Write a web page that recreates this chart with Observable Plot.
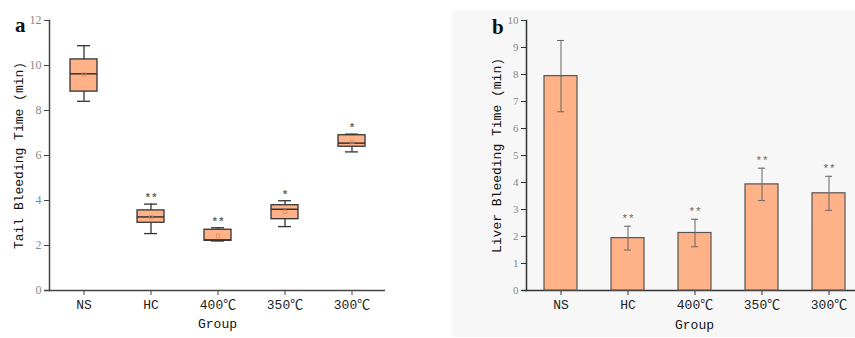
<!DOCTYPE html>
<html>
<head>
<meta charset="utf-8">
<script src="https://cdn.jsdelivr.net/npm/d3@7"></script>
<script src="https://cdn.jsdelivr.net/npm/@observablehq/plot@0.6"></script>
<style>
  html, body { margin: 0; padding: 0; background: #fff; overflow: hidden; }
  #wrap { position: relative; width: 855px; height: 338px; overflow: hidden; }
  #bg { position: absolute; left: 452px; top: 10px; width: 403px; height: 327px; background: #f7f7f7; }
  #pa { position: absolute; left: 0; top: 0; }
  #pb { position: absolute; left: 430px; top: 0; }
  .lab { position: absolute; font-family: "Liberation Serif", serif; font-weight: bold; font-size: 21px; color: #111; }
</style>
</head>
<body>
<div id="wrap">
  <div id="bg"></div>
  <div id="pa"></div>
  <div id="pb"></div>
  <div class="lab" style="left:15px; top:13px;">a</div>
  <div class="lab" style="left:492px; top:15px;">b</div>
</div>
<script>
const groups = ["NS", "HC", "400℃", "350℃", "300℃"];

// Panel a: tail bleeding time box plot
const tailLow    = [8.41, 2.53, 2.20, 2.84, 6.16];
const tailQ1     = [8.84, 3.01, 2.21, 3.17, 6.39];
const tailMedian = [9.63, 3.27, 2.25, 3.61, 6.55];
const tailQ3     = [10.27, 3.56, 2.70, 3.79, 6.90];
const tailHigh   = [10.88, 3.84, 2.79, 3.99, 6.95];
const tailMean   = [9.60, 3.25, 2.43, 3.50, 6.60];
const tailSig    = ["", "**", "**", "*", "*"];
const tailTicks  = [0, 2, 4, 6, 8, 10, 12];

// Panel b: liver bleeding time bar chart (mean ± SD)
const liverMean = [7.94, 1.94, 2.13, 3.93, 3.60];
const liverSD   = [1.32, 0.44, 0.51, 0.60, 0.63];
const liverSig  = ["", "**", "**", "**", "**"];
const liverTicks = [0, 1, 2, 3, 4, 5, 6, 7, 8, 9, 10];

const tail = groups.map((g, i) => ({
  group: g, low: tailLow[i], q1: tailQ1[i], median: tailMedian[i],
  q3: tailQ3[i], high: tailHigh[i], mean: tailMean[i], sig: tailSig[i]
}));
const liver = groups.map((g, i) => ({
  group: g, mean: liverMean[i], lo: liverMean[i] - liverSD[i],
  hi: liverMean[i] + liverSD[i], sig: liverSig[i]
}));

const monoFont = "'Liberation Mono', 'Noto Sans CJK SC', monospace";
const serifFont = "'Liberation Serif', serif";
const fillColor = "#ffb188";

const pa = Plot.plot({
  width: 430, height: 338,
  marginLeft: 49, marginRight: 45, marginTop: 20, marginBottom: 48,
  style: { background: "transparent", maxWidth: "none", overflow: "visible" },
  x: { domain: groups, padding: 0, label: null },
  y: { domain: [0, 12], label: null },
  marks: [
    Plot.frame({ anchor: "left", stroke: "#444", strokeWidth: 1.5 }),
    Plot.ruleY([0], { stroke: "#444", strokeWidth: 1.5, insetLeft: -5 }),
    Plot.axisY({ ticks: tailTicks, tickSize: 5, tickPadding: 3, stroke: "#444", fill: "#888",
      fontFamily: serifFont, fontSize: 12, label: null }),
    Plot.axisX({ tickSize: 5, tickPadding: 4, stroke: "#444", fill: "#222", fontFamily: monoFont,
      fontSize: 13, label: null }),
    Plot.text(["Tail Bleeding Time (min)"], { frameAnchor: "left", rotate: -90, dx: -31,
      textAnchor: "middle", fontFamily: monoFont, fontSize: 13, fill: "#111" }),
    Plot.text(["Group"], { frameAnchor: "bottom", dy: 37, fontFamily: monoFont, fontSize: 13,
      fill: "#111" }),
    Plot.ruleX(tail, { x: "group", y1: "low", y2: "q1", stroke: "#333", strokeWidth: 1.3 }),
    Plot.ruleX(tail, { x: "group", y1: "q3", y2: "high", stroke: "#333", strokeWidth: 1.3 }),
    Plot.tickY(tail, { x: "group", y: "low", inset: 27, stroke: "#333", strokeWidth: 1.3 }),
    Plot.tickY(tail, { x: "group", y: "high", inset: 27, stroke: "#333", strokeWidth: 1.3 }),
    Plot.rectY(tail, { x: "group", y1: "q1", y2: "q3", insetLeft: 20, insetRight: 20, fill: fillColor,
      stroke: "#333", strokeWidth: 1.3 }),
    Plot.tickY(tail, { x: "group", y: "median", inset: 20, stroke: "#333", strokeWidth: 1.5 }),
    Plot.dot(tail, { x: "group", y: "mean", symbol: "square", r: 2, stroke: "#d98a6a", strokeWidth: 0.8, fill: "none" }),
    Plot.text(tail, { x: "group", y: "high", text: "sig", dy: -3, lineAnchor: "bottom", fill: "#666",
      fontSize: 11, fontFamily: monoFont, fontWeight: "bold" })
  ]
});
document.getElementById("pa").appendChild(pa);

const pb = Plot.plot({
  width: 432, height: 338,
  marginLeft: 96, marginRight: 0, marginTop: 20, marginBottom: 48,
  style: { background: "transparent", maxWidth: "none", overflow: "visible" },
  x: { domain: groups, padding: 0, label: null },
  y: { domain: [0, 10], label: null },
  marks: [
    Plot.frame({ anchor: "left", stroke: "#333", strokeWidth: 1.5 }),
    Plot.ruleY([0], { stroke: "#333", strokeWidth: 1.5, insetLeft: -4 }),
    Plot.axisY({ ticks: liverTicks, tickSize: 5, tickPadding: 3, stroke: "#333", fill: "#888",
      fontFamily: serifFont, fontSize: 11, label: null }),
    Plot.axisX({ tickSize: 5, tickPadding: 4, stroke: "#333", fill: "#222", fontFamily: monoFont,
      fontSize: 13, label: null }),
    Plot.text(["Liver Bleeding Time (min)"], { frameAnchor: "left", rotate: -90, dx: -30,
      textAnchor: "middle", fontFamily: monoFont, fontSize: 13, fill: "#111" }),
    Plot.text(["Group"], { frameAnchor: "bottom", dy: 38, fontFamily: monoFont, fontSize: 13,
      fill: "#111" }),
    Plot.barY(liver, { x: "group", y: "mean", insetLeft: 17, insetRight: 17, fill: fillColor,
      stroke: "#555", strokeWidth: 1.2 }),
    Plot.ruleX(liver, { x: "group", y1: "lo", y2: "hi", stroke: "#666", strokeWidth: 1 }),
    Plot.tickY(liver, { x: "group", y: "lo", inset: 30, stroke: "#666", strokeWidth: 1 }),
    Plot.tickY(liver, { x: "group", y: "hi", inset: 30, stroke: "#666", strokeWidth: 1 }),
    Plot.text(liver, { x: "group", y: "hi", text: "sig", dy: -4, lineAnchor: "bottom", fill: "#666",
      fontSize: 11, fontFamily: monoFont })
  ]
});
document.getElementById("pb").appendChild(pb);
</script>
</body>
</html>
